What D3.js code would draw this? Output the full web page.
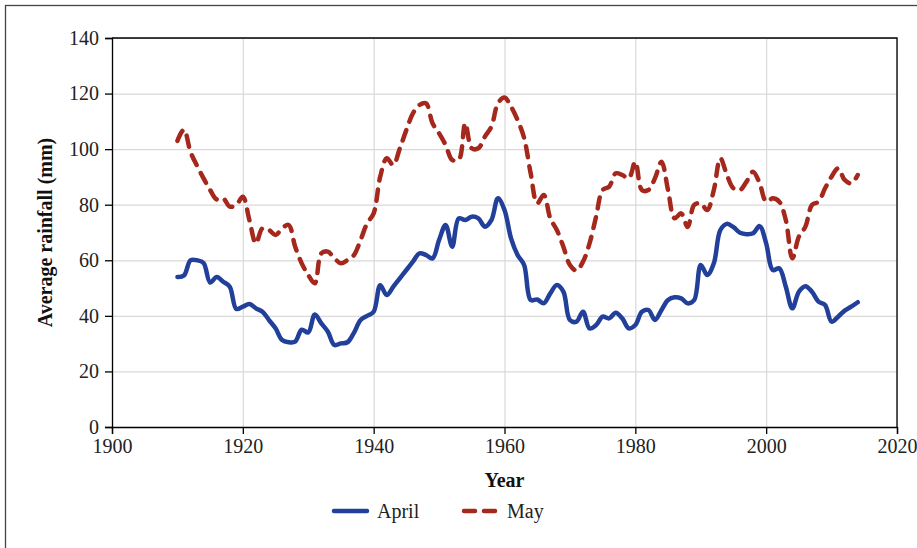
<!DOCTYPE html>
<html>
<head>
<meta charset="utf-8">
<script src="https://cdn.jsdelivr.net/npm/d3@7"></script>
<style>
  body { margin: 0; background: #fff; }
  svg { display: block; font-family: "Liberation Serif", serif; }
  .grid line { stroke: #d9d9d9; stroke-width: 1.2; }
  .grid path { display: none; }
  .axis path, .axis line { stroke: #000; stroke-width: 1.3; }
  .axis text { font-size: 20px; fill: #222; font-family: "Liberation Serif", serif; }
  .axis-label { font-size: 20px; font-weight: bold; fill: #111; }
  .legend-text { font-size: 20px; fill: #222; }
</style>
</head>
<body>
<div id="chart"></div>
<script>
const width = 917;
const height = 548;

const margin = { top: 38, right: 20, bottom: 121, left: 112 };

// DATA
const years = d3.range(1910, 2015);

const april = [
    54, 54.5, 60, 60, 59, 52, 54, 52.3, 50.5, 42.5,
    43.3, 44.3, 42.7, 41.5, 38.5, 35.5, 31.3, 30.5, 30.7, 35,
    34, 40.5, 37.3, 34.3, 29.5, 30.1, 30.5, 34, 38.5, 40,
    41.5, 51, 47.5, 50.5, 53.5, 56.5, 59.5, 62.5, 61.9, 60.7,
    67.3, 72.7, 64.9, 75.1, 74.5, 75.7, 75.1, 72.1, 74.5, 82.3,
    78.1, 67.9, 61.9, 58.3, 45.7, 45.9, 44.5, 48.1, 51.1, 48.7,
    38.5, 37.9, 41.5, 35.5, 36.7, 39.7, 39.1, 41.1, 39.1, 35.5,
    36.7, 41.5, 42.1, 38.5, 42.1, 45.7, 46.7, 46.3, 44.5, 45.7,
    58.3, 54.7, 58.9, 70.9, 73.1, 71.9, 69.9, 69.4, 69.7, 72.3,
    66.1, 56.5, 57.1, 50.5, 42.7, 48.7, 50.7, 48.7, 45.1, 43.9,
    37.9, 39.7, 41.9, 43.3, 44.9
];

const may = [
    103, 107, 99, 94, 89.5, 85.3, 81.9, 82.3, 79.3, 79.9,
    82.9, 74.5, 66.1, 71.5, 70.9, 69.1, 71.5, 72.7, 64.9, 58.9,
    54.7, 51.7, 62.5, 63.1, 60.7, 58.9, 60.1, 61.9, 67.3, 73.3,
    76.9, 90.1, 96.7, 94.3, 100.3, 106.9, 112.9, 115.9, 116.5, 109.3,
    105.7, 101.5, 96.1, 96.1, 109.3, 100.3, 100.3, 104.5, 108.1, 116.5,
    118.6, 115.3, 110.5, 104, 91.3, 80.5, 83.5, 75.1, 70.9, 64.9,
    58.3, 56.3, 59.5, 66.1, 75.7, 85.3, 86.5, 91.3, 90.7, 89.5,
    95.5, 85.3, 85.3, 89.5, 95.5, 85.3, 75.1, 76.9, 72, 79.9,
    80.5, 78.1, 85.3, 96.7, 90.7, 85.9, 85.3, 88.3, 91.9, 87.7,
    81.1, 82.3, 81.1, 74.5, 60.7, 68.5, 72.1, 79.9, 81.1, 85.9,
    90.1, 93.1, 88.9, 87.7, 90.7
];

const xTicks = [1900, 1920, 1940, 1960, 1980, 2000, 2020];
const yTicks = [0, 20, 40, 60, 80, 100, 120, 140];

const series = [
    { name: "April", values: april, color: "#22409a", dash: null },
    { name: "May", values: may, color: "#a5281d", dash: "11,9" }
];

const svg = d3.select("#chart")
    .append("svg")
    .attr("width", width)
    .attr("height", height);

// OUTER FRAME
svg.append("rect")
    .attr("x", 5.5)
    .attr("y", 5.5)
    .attr("width", width + 20)
    .attr("height", height + 20)
    .attr("fill", "none")
    .attr("stroke", "#444")
    .attr("stroke-width", 1.3);

const x = d3.scaleLinear()
    .domain([1900, 2020])
    .range([margin.left, width - margin.right]);

const y = d3.scaleLinear()
    .domain([0, 140])
    .range([height - margin.bottom, margin.top]);

// GRID
svg.append("g")
    .attr("class", "grid")
    .attr("transform", `translate(${margin.left},0)`)
    .call(d3.axisLeft(y).tickValues(yTicks)
        .tickSize(-(width - margin.left - margin.right))
        .tickFormat(""));

svg.append("g")
    .attr("class", "grid")
    .attr("transform", `translate(0,${height - margin.bottom})`)
    .call(d3.axisBottom(x).tickValues(xTicks)
        .tickSize(-(height - margin.top - margin.bottom))
        .tickFormat(""));

// TOP / RIGHT FRAME
svg.append("path")
    .attr("d", `M${x(1900)},${y(140)}H${x(2020)}V${y(0)}`)
    .attr("fill", "none")
    .attr("stroke", "#000")
    .attr("stroke-width", 1.3);

// LINES
const line = d3.line()
    .x((d, i) => x(years[i]))
    .y(d => y(d))
    .curve(d3.curveCatmullRom.alpha(0.5));

series.forEach(s => {
    svg.append("path")
        .datum(s.values)
        .attr("fill", "none")
        .attr("stroke", s.color)
        .attr("stroke-width", 4.5)
        .attr("stroke-linecap", "round")
        .attr("stroke-linejoin", "round")
        .attr("stroke-dasharray", s.dash)
        .attr("d", line);
});

// X AXIS
svg.append("g")
    .attr("class", "axis")
    .attr("transform", `translate(0,${height - margin.bottom})`)
    .call(d3.axisBottom(x).tickValues(xTicks).tickSize(7).tickPadding(5).tickFormat(d3.format("d")));

// Y AXIS
svg.append("g")
    .attr("class", "axis")
    .attr("transform", `translate(${margin.left},0)`)
    .call(d3.axisLeft(y).tickValues(yTicks).tickSize(7).tickPadding(6));

// X LABEL
svg.append("text")
    .attr("class", "axis-label")
    .attr("x", (margin.left + width - margin.right) / 2)
    .attr("y", 487)
    .attr("text-anchor", "middle")
    .text("Year");

// Y LABEL
svg.append("text")
    .attr("class", "axis-label")
    .attr("transform", `translate(52,${(margin.top + height - margin.bottom) / 2}) rotate(-90)`)
    .attr("text-anchor", "middle")
    .text("Average rainfall (mm)");

// LEGEND
const legend = svg.append("g").attr("transform", "translate(0,511)");
const legendX = [334, 464];

series.forEach((s, i) => {
    legend.append("line")
        .attr("x1", legendX[i])
        .attr("x2", legendX[i] + 33)
        .attr("y1", 0)
        .attr("y2", 0)
        .attr("stroke", s.color)
        .attr("stroke-width", 4.5)
        .attr("stroke-linecap", "round")
        .attr("stroke-dasharray", s.dash);

    legend.append("text")
        .attr("class", "legend-text")
        .attr("x", legendX[i] + 43)
        .attr("y", 7)
        .text(s.name);
});
</script>
</body>
</html>
